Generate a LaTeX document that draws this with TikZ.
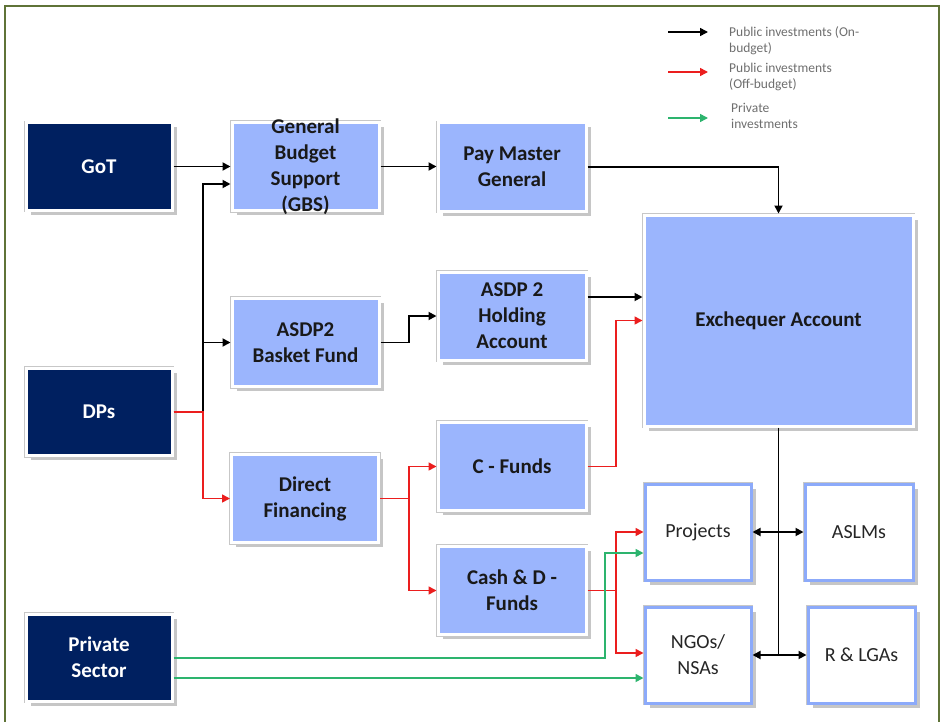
\documentclass[tikz,border=0pt]{standalone}
\usepackage{fontspec}
\setmainfont{Carlito}
\usetikzlibrary{arrows.meta,shadows,calc}
\definecolor{navy}{RGB}{0,32,96}
\definecolor{boxblue}{RGB}{155,181,253}
\definecolor{edgeblue}{RGB}{140,170,250}
\definecolor{frameg}{RGB}{95,115,55}
\definecolor{arrred}{RGB}{235,30,30}
\definecolor{arrgreen}{RGB}{45,180,110}
\definecolor{legtext}{RGB}{110,110,110}
\tikzset{
  basebox/.style={rectangle, inner sep=0pt, line width=3pt, draw=white,
    drop shadow={shadow xshift=4.5pt, shadow yshift=-4.5pt, opacity=0.28, fill=black!80},
    preaction={draw=black!22, line width=4.4pt},
    align=center, font=\fontsize{21}{26}\selectfont\bfseries},
  navybox/.style={basebox, fill=navy, text=white, minimum width=146pt, minimum height=87pt},
  bluebox/.style={basebox, fill=boxblue, text=black!90},
  wtwo/.style={minimum width=147pt, minimum height=88pt},
  wthree/.style={minimum width=148pt, minimum height=88pt},
  whitebox/.style={basebox, fill=white, draw=edgeblue, text=black!85,
    minimum height=96pt, font=\fontsize{20}{26}\selectfont},
  lbl/.style={align=center, inner sep=0pt, font=\fontsize{21}{26}\selectfont\bfseries, text=black!90},
  lgd/.style={align=left, inner sep=0pt, anchor=west, text=legtext, font=\fontsize{13.5}{16.5}\selectfont},
  blk/.style={draw=black, line width=1.8pt, -{Triangle[length=8pt,width=8pt]}},
  redl/.style={draw=arrred, line width=1.6pt, -{Triangle[length=8pt,width=8pt]}},
  grn/.style={draw=arrgreen, line width=1.7pt, -{Triangle[length=8pt,width=8pt]}},
  dbl/.style={draw=black, line width=1.8pt, {Triangle[length=8pt,width=8pt]}-{Triangle[length=8pt,width=8pt]}}
}
\begin{document}
\begin{tikzpicture}[x=1pt,y=-1pt]
\useasboundingbox (0,0) rectangle (944,722);
\draw[frameg, line width=2pt] (5,722) -- (5,6.5) -- (939,6.5) -- (939,722);

% left column
\node[navybox] (GoT) at (99,166.5) {GoT};
\node[navybox] (DPs) at (99,412) {DPs};
\node[navybox] (Priv) at (99,657.5) {Private\\Sector};

% second column
\node[bluebox, wtwo] (GBS) at (305.5,166.5) {};
\node[lbl] (GBSt) at (GBS.center) {General\\Budget\\Support\\(GBS)};
\node[bluebox, wtwo] (Basket) at (305.5,342.5) {ASDP2\\Basket Fund};
\node[bluebox, wtwo] (DF) at (305,498.5) {Direct\\Financing};

% third column
\node[bluebox, wthree] (PMG) at (512,167) {Pay Master\\General};
\node[bluebox, wthree] (Hold) at (512,316) {ASDP 2\\Holding\\Account};
\node[bluebox, wthree] (CF) at (512,466.5) {C - Funds};
\node[bluebox, wthree] (Cash) at (512,590.5) {Cash \& D -\\Funds};

% right
\node[bluebox, minimum width=269pt, minimum height=211pt] (Exch) at (778.5,320.5) {Exchequer Account};
\node[whitebox, minimum width=106pt] (Proj) at (698,532) {Projects};
\node[whitebox, minimum width=106pt] (NGO) at (698,655) {NGOs/\\NSAs};
\node[whitebox, minimum width=108pt] (ASLM) at (859,532) {ASLMs};
\node[whitebox, minimum width=107pt] (RLGA) at (861.5,655) {R \& LGAs};

% connectors
\coordinate (j1) at (203,412);
\draw[blk] (DPs.east) -- (j1) |- ($(GBS.west)+(0,17.5)$);
\draw[blk] (j1) |- (Basket.west);
\draw[redl] (DPs.east) -- (j1) |- (DF.west);
\draw[blk] (GoT) -- (GBS);
\draw[blk] (GBS.east) -- (GBS.east -| PMG.west);
\coordinate (j2) at (409,330);
\draw[blk] (Basket.east) -| (j2) |- (Hold.west);
\coordinate (h1) at ($(Hold.east)+(0,-19)$);
\draw[blk] (h1) -- (h1 -| Exch.west);
\draw[blk] (PMG.east) -| (Exch.north);
\coordinate (j3) at (409,498.5);
\draw[redl] (DF.east) -- (j3) |- (CF.west);
\draw[redl] (j3) |- (Cash.west);
\coordinate (j4) at (616,400);
\draw[redl] (CF.east) -| (j4) |- (Exch.west);
\coordinate (j5) at (616,590.5);
\draw[redl] (Cash.east) -- (j5) |- (Proj.west);
\draw[redl] (j5) |- ($(NGO.west)+(0,-2)$);
\coordinate (g1) at ($(Proj.west)+(0,21)$);
\coordinate (g0) at ($(Priv.east)+(0,0.5)$);
\coordinate (j6) at (605,620);
\draw[grn] (g0) -| (j6) |- (g1);
\coordinate (g2) at ($(Priv.east)+(0,20.5)$);
\draw[grn] (g2) -- (g2 -| NGO.west);
\coordinate (j7) at (Exch.south |- NGO.east);
\draw[draw=black, line width=1.8pt] (Exch.south) -- (j7);
\draw[dbl] (Proj.east) -- (ASLM.west);
\draw[dbl] (NGO.east) -- (RLGA.west);

% legend
\coordinate (la0) at (668,32); \coordinate (la1) at (708,32);
\draw[blk, line width=1.5pt] (la0) -- (la1);
\node[lgd] (lt1) at (729,40.5) {Public investments (On-\\budget)};
\coordinate (lb0) at (668,72); \coordinate (lb1) at (708,72);
\draw[redl, line width=1.5pt] (lb0) -- (lb1);
\node[lgd] (lt2) at (729,77) {Public investments\\(Off-budget)};
\coordinate (lc0) at (668,118); \coordinate (lc1) at (708,118);
\draw[grn, line width=1.5pt] (lc0) -- (lc1);
\node[lgd] (lt3) at (731,116) {Private\\investments};
\end{tikzpicture}
\end{document}
